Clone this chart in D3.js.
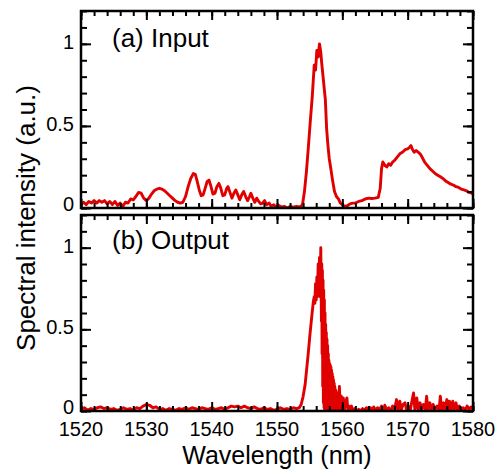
<!DOCTYPE html>
<html>
<head>
<meta charset="utf-8">
<script src="https://cdn.jsdelivr.net/npm/d3@7"></script>
<style>
  body { margin: 0; background: #fff; }
  svg { display: block; }
  text { font-family: "Liberation Sans", Arial, sans-serif; fill: #000; }
</style>
</head>
<body>
<div id="chart"></div>
<script>
// tick labels
var xTicks = [1520, 1530, 1540, 1550, 1560, 1570, 1580];
var yTicks = [0, 0.5, 1];

// (a) input spectrum
var inputWl = [
  1520.0, 1520.4, 1520.8, 1521.2, 1521.6, 1522.0, 1522.4, 1522.8, 1523.2, 1523.6,
  1524.0, 1524.4, 1524.8, 1525.2, 1525.6, 1526.0, 1526.4, 1526.8, 1527.2, 1527.6,
  1528.0, 1528.4, 1528.8, 1529.2, 1529.6, 1530.0, 1530.4, 1530.8, 1531.2, 1531.6,
  1532.0, 1532.4, 1532.8, 1533.2, 1533.6, 1534.0, 1534.4, 1534.8, 1535.2, 1535.6,
  1536.0, 1536.4, 1536.8, 1537.2, 1537.5, 1537.8, 1538.1, 1538.4, 1538.7, 1539.0,
  1539.3, 1539.6, 1539.9, 1540.2, 1540.5, 1540.8, 1541.1, 1541.4, 1541.7, 1542.0,
  1542.3, 1542.5, 1542.8, 1543.1, 1543.4, 1543.7, 1544.0, 1544.3, 1544.6, 1544.9,
  1545.2, 1545.5, 1545.8, 1546.0, 1546.3, 1546.6, 1546.9, 1547.2, 1547.5, 1547.8,
  1548.1, 1548.4, 1548.8, 1549.1, 1549.5, 1549.9, 1550.3, 1550.7, 1551.1, 1551.6,
  1552.0, 1552.5, 1553.0, 1553.5, 1553.9, 1554.2, 1554.5, 1554.8, 1555.1, 1555.4,
  1555.7, 1555.9, 1556.1, 1556.3, 1556.5, 1556.7, 1556.85, 1557.0, 1557.2, 1557.4,
  1557.6, 1557.8, 1558.0, 1558.2, 1558.5, 1558.8, 1559.1, 1559.4, 1559.7, 1560.0,
  1560.4, 1560.8, 1561.2, 1561.6, 1562.0, 1562.5, 1563.0, 1563.5, 1564.0, 1564.5,
  1565.0, 1565.5, 1565.8, 1566.0, 1566.2, 1566.5, 1566.8, 1567.1, 1567.4, 1567.7,
  1568.0, 1568.4, 1568.8, 1569.2, 1569.6, 1570.0, 1570.3, 1570.5, 1570.7, 1571.0,
  1571.3, 1571.6, 1571.9, 1572.2, 1572.6, 1573.0, 1573.4, 1573.8, 1574.2, 1574.6,
  1575.0, 1575.4, 1575.8, 1576.2, 1576.6, 1577.0, 1577.4, 1577.8, 1578.2, 1578.6,
  1579.0, 1579.4, 1579.8, 1580.0
];
var inputVal = [
  0.02, 0.035, 0.02, 0.04, 0.03, 0.045, 0.03, 0.045, 0.035, 0.045,
  0.025, 0.04, 0.02, 0.04, 0.015, 0.03, 0.01, 0.035, 0.03, 0.055,
  0.05, 0.07, 0.095, 0.09, 0.06, 0.045, 0.06, 0.085, 0.105, 0.115,
  0.12, 0.115, 0.105, 0.09, 0.075, 0.06, 0.045, 0.035, 0.03, 0.035,
  0.07, 0.13, 0.18, 0.21, 0.205, 0.16, 0.11, 0.075, 0.08, 0.12,
  0.16, 0.17, 0.13, 0.085, 0.09, 0.13, 0.15, 0.12, 0.075, 0.08,
  0.12, 0.13, 0.095, 0.06, 0.09, 0.11, 0.08, 0.05, 0.08, 0.10,
  0.07, 0.045, 0.07, 0.09, 0.06, 0.035, 0.06, 0.04, 0.025, 0.03,
  0.045, 0.02, 0.03, 0.01, 0.02, 0.005, 0.015, 0.005, 0.01, 0.0,
  0.01, 0.005, 0.01, 0.005, 0.02, 0.1, 0.22, 0.37, 0.53, 0.68,
  0.87, 0.84, 0.96, 0.92, 1.0, 0.95, 0.88, 0.82, 0.74, 0.66,
  0.48, 0.38, 0.3, 0.25, 0.17, 0.1, 0.07, 0.055, 0.03, 0.02,
  0.01, 0.015, 0.025, 0.03, 0.03, 0.04, 0.045, 0.055, 0.06, 0.058,
  0.06, 0.065, 0.12, 0.24, 0.28, 0.26, 0.25, 0.27, 0.26, 0.28,
  0.29, 0.31, 0.33, 0.34, 0.355, 0.36, 0.37, 0.38, 0.36, 0.34,
  0.35, 0.34, 0.33, 0.31, 0.28, 0.26, 0.24, 0.225, 0.21, 0.2,
  0.19, 0.18, 0.165, 0.155, 0.145, 0.14, 0.13, 0.125, 0.115, 0.11,
  0.105, 0.095, 0.09, 0.085
];

// (b) output spectrum
var outputWl = [
  1520.0, 1520.5, 1521.0, 1521.5, 1522.0, 1522.5, 1523.0, 1523.5, 1524.0, 1524.5,
  1525.0, 1525.5, 1526.0, 1526.5, 1527.0, 1527.5, 1528.0, 1528.5, 1529.0, 1529.5,
  1530.0, 1530.5, 1531.0, 1531.5, 1532.0, 1532.5, 1533.0, 1533.5, 1534.0, 1534.5,
  1535.0, 1535.5, 1536.0, 1536.5, 1537.0, 1537.5, 1538.0, 1538.5, 1539.0, 1539.5,
  1540.0, 1540.5, 1541.0, 1541.5, 1542.0, 1542.5, 1543.0, 1543.5, 1544.0, 1544.5,
  1545.0, 1545.5, 1546.0, 1546.5, 1547.0, 1547.5, 1548.0, 1548.5, 1549.0, 1549.5,
  1550.0, 1550.5, 1551.0, 1551.5, 1552.0, 1552.5, 1553.0, 1553.4, 1553.7, 1554.0,
  1554.3, 1554.55, 1554.8, 1555.05, 1555.3, 1555.56, 1555.7, 1555.8, 1555.9, 1556.0,
  1556.1, 1556.2, 1556.3, 1556.4, 1556.5, 1556.6, 1556.7, 1556.8, 1556.85, 1556.9,
  1556.95, 1557.0, 1557.05, 1557.1, 1557.15, 1557.2, 1557.25, 1557.3, 1557.35, 1557.4,
  1557.45, 1557.5, 1557.55, 1557.6, 1557.65, 1557.7, 1557.75, 1557.8, 1557.85, 1557.9,
  1557.95, 1558.0, 1558.05, 1558.1, 1558.15, 1558.2, 1558.25, 1558.3, 1558.35, 1558.4,
  1558.45, 1558.5, 1558.55, 1558.6, 1558.65, 1558.7, 1558.75, 1558.8, 1558.85, 1558.9,
  1558.95, 1559.0, 1559.05, 1559.1, 1559.15, 1559.2, 1559.3, 1559.4, 1559.55, 1559.7,
  1559.85, 1560.0, 1560.15, 1560.3, 1560.5, 1560.7, 1560.85, 1561.0, 1561.2, 1561.4,
  1561.6, 1561.9, 1562.2, 1562.5, 1562.8, 1563.1, 1563.4, 1563.7, 1564.0, 1564.3,
  1564.6, 1564.8, 1565.1, 1565.4, 1565.7, 1566.0, 1566.3, 1566.5, 1566.8, 1567.1,
  1567.4, 1567.7, 1568.0, 1568.3, 1568.5, 1568.8, 1569.0, 1569.3, 1569.6, 1569.8,
  1570.1, 1570.4, 1570.7, 1570.9, 1571.1, 1571.4, 1571.6, 1571.9, 1572.1, 1572.4,
  1572.7, 1572.9, 1573.1, 1573.4, 1573.6, 1573.9, 1574.2, 1574.5, 1574.8, 1575.0,
  1575.2, 1575.5, 1575.7, 1576.0, 1576.2, 1576.4, 1576.6, 1576.9, 1577.1, 1577.4,
  1577.6, 1577.9, 1578.2, 1578.5, 1578.8, 1579.1, 1579.4, 1579.7, 1580.0
];
var outputVal = [
  0.01, 0.02, 0.005, 0.015, 0.01, 0.02, 0.025, 0.015, 0.02, 0.01,
  0.015, 0.005, 0.01, 0.02, 0.01, 0.015, 0.005, 0.02, 0.015, 0.03,
  0.04, 0.035, 0.02, 0.025, 0.01, 0.015, 0.005, 0.015, 0.01, 0.005,
  0.015, 0.01, 0.02, 0.01, 0.02, 0.015, 0.01, 0.02, 0.015, 0.01,
  0.02, 0.01, 0.015, 0.02, 0.01, 0.02, 0.03, 0.025, 0.03, 0.02,
  0.03, 0.02, 0.015, 0.025, 0.015, 0.01, 0.02, 0.01, 0.015, 0.005,
  0.01, 0.02, 0.01, 0.015, 0.01, 0.02, 0.015, 0.02, 0.04, 0.09,
  0.16, 0.26, 0.36, 0.47, 0.57, 0.67, 0.70, 0.66, 0.78, 0.68,
  0.82, 0.70, 0.90, 0.72, 0.94, 0.70, 1.0, 0.55, 0.90, 0.35,
  0.86, 0.15, 0.80, 0.05, 0.74, 0.02, 0.68, 0.0, 0.60, 0.01,
  0.53, 0.0, 0.48, 0.01, 0.44, 0.0, 0.40, 0.01, 0.35, 0.0,
  0.31, 0.01, 0.29, 0.0, 0.28, 0.01, 0.27, 0.0, 0.25, 0.01,
  0.23, 0.0, 0.21, 0.01, 0.19, 0.0, 0.17, 0.01, 0.15, 0.0,
  0.13, 0.01, 0.12, 0.0, 0.11, 0.01, 0.10, 0.0, 0.15, 0.005,
  0.09, 0.005, 0.08, 0.005, 0.05, 0.08, 0.005, 0.03, 0.0, 0.03,
  0.005, 0.015, 0.0, 0.01, 0.0, 0.015, 0.005, 0.02, 0.005, 0.02,
  0.0, 0.025, 0.005, 0.02, 0.005, 0.03, 0.0, 0.035, 0.005, 0.02,
  0.0, 0.03, 0.01, 0.07, 0.01, 0.06, 0.005, 0.04, 0.05, 0.01,
  0.03, 0.005, 0.07, 0.11, 0.01, 0.08, 0.005, 0.05, 0.01, 0.04,
  0.005, 0.09, 0.01, 0.05, 0.005, 0.04, 0.01, 0.03, 0.005, 0.09,
  0.01, 0.05, 0.005, 0.07, 0.01, 0.06, 0.005, 0.06, 0.01, 0.05,
  0.005, 0.03, 0.01, 0.02, 0.005, 0.03, 0.01, 0.025, 0.01
];

var svgWidth = 501, svgHeight = 469;
var left = 81, right = 473;
var panels = [
  { top: 11, bottom: 208, wl: inputWl, val: inputVal, label: "(a) Input", labelY: 47 },
  { top: 215, bottom: 411, wl: outputWl, val: outputVal, label: "(b) Output", labelY: 249 }
];

var svg = d3.select("#chart")
  .append("svg")
  .attr("width", svgWidth)
  .attr("height", svgHeight);

var xScale = d3.scaleLinear()
  .domain([1520, 1580])
  .range([left, right]);

var xMinor = d3.range(1520, 1581, 2);
var yMinor = d3.range(0, 1.21, 0.1);

panels.forEach(function (p, i) {
  var yScale = d3.scaleLinear()
    .domain([0, 1.2])
    .range([p.bottom, p.top]);

  var g = svg.append("g");

  // clip
  g.append("clipPath")
    .attr("id", "clip" + i)
    .append("rect")
    .attr("x", left)
    .attr("y", p.top)
    .attr("width", right - left)
    .attr("height", p.bottom - p.top);

  // spectrum
  var pts = p.wl.map(function (w, k) { return [w, p.val[k]]; });
  var line = d3.line()
    .x(d => xScale(d[0]))
    .y(d => yScale(d[1]));

  g.append("path")
    .datum(pts)
    .attr("clip-path", "url(#clip" + i + ")")
    .attr("d", line)
    .attr("fill", "none")
    .attr("stroke", "#e00000")
    .attr("stroke-width", 2.9)
    .attr("stroke-linejoin", "round");

  // inward ticks on all four sides
  function addAxis(axis, tx, ty) {
    var a = g.append("g")
      .attr("transform", "translate(" + tx + "," + ty + ")")
      .call(axis);
    a.select(".domain").remove();
    a.selectAll("line").attr("stroke", "#000").attr("stroke-width", 2);
    a.selectAll("text").remove();
  }
  addAxis(d3.axisBottom(xScale).tickValues(xMinor).tickSize(-5), 0, p.bottom);
  addAxis(d3.axisBottom(xScale).tickValues(xTicks).tickSize(-9), 0, p.bottom);
  addAxis(d3.axisTop(xScale).tickValues(xMinor).tickSize(-5), 0, p.top);
  addAxis(d3.axisTop(xScale).tickValues(xTicks).tickSize(-9), 0, p.top);
  addAxis(d3.axisLeft(yScale).tickValues(yMinor).tickSize(-6), left, 0);
  addAxis(d3.axisLeft(yScale).tickValues(yTicks).tickSize(-10), left, 0);
  addAxis(d3.axisRight(yScale).tickValues(yMinor).tickSize(-6), right, 0);
  addAxis(d3.axisRight(yScale).tickValues(yTicks).tickSize(-10), right, 0);

  // frame
  g.append("rect")
    .attr("x", left)
    .attr("y", p.top)
    .attr("width", right - left)
    .attr("height", p.bottom - p.top)
    .attr("fill", "none")
    .attr("stroke", "#000")
    .attr("stroke-width", 2.5);

  // y tick labels
  g.selectAll(".ylab")
    .data(yTicks)
    .enter()
    .append("text")
    .attr("x", left - 7)
    .attr("y", d => yScale(d) - (d === 0 ? 4 : 2))
    .attr("dy", "0.35em")
    .attr("text-anchor", "end")
    .attr("font-size", "20px")
    .text(d => d);

  // panel label
  g.append("text")
    .attr("x", 112)
    .attr("y", p.labelY)
    .attr("font-size", "26px")
    .text(p.label);
});

// x tick labels
svg.selectAll(".xlab")
  .data(xTicks)
  .enter()
  .append("text")
  .attr("x", d => xScale(d))
  .attr("y", 436)
  .attr("text-anchor", "middle")
  .attr("font-size", "20px")
  .text(d => d);

// axis titles
svg.append("text")
  .attr("x", 277)
  .attr("y", 464)
  .attr("text-anchor", "middle")
  .attr("font-size", "25px")
  .text("Wavelength (nm)");

svg.append("text")
  .attr("transform", "translate(35,218) rotate(-90)")
  .attr("text-anchor", "middle")
  .attr("font-size", "26px")
  .text("Spectral intensity (a.u.)");
</script>
</body>
</html>
